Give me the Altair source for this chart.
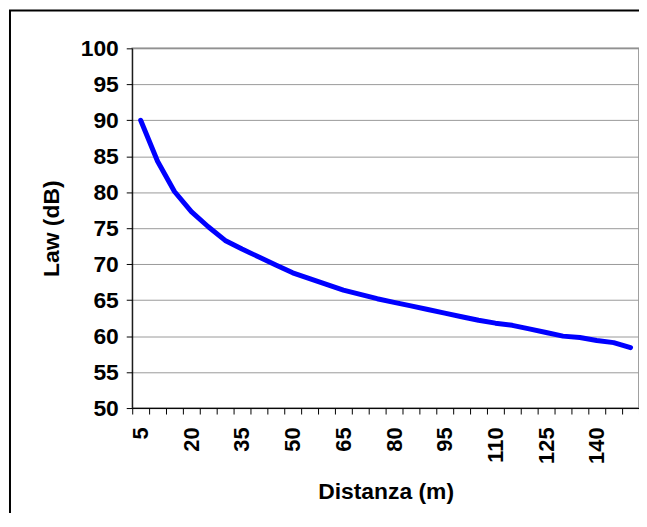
import altair as alt
import pandas as pd

dist = [5, 10, 15, 20, 25, 30, 35, 40, 45, 50, 55, 60, 65, 70, 75,
        80, 85, 90, 95, 100, 105, 110, 115, 120, 125, 130, 135, 140, 145, 150]
law = [90.0, 84.3, 80.1, 77.3, 75.2, 73.3, 72.1, 71.0, 69.9, 68.8,
       68.0, 67.2, 66.4, 65.8, 65.2, 64.7, 64.2, 63.7, 63.2, 62.7,
       62.2, 61.8, 61.5, 61.0, 60.5, 60.0, 59.8, 59.4, 59.1, 58.4]
x_labels = [5, 20, 35, 50, 65, 80, 95, 110, 125, 140]
y_ticks = [50, 55, 60, 65, 70, 75, 80, 85, 90, 95, 100]
x_bounds = [d - 2.5 for d in dist] + [dist[-1] + 2.5]

df = pd.DataFrame({"d": dist, "v": law})
FONT = "Liberation Sans"

xscale = alt.Scale(domain=[x_bounds[0], x_bounds[-1]], nice=False, zero=False)

line = alt.Chart(df).mark_line(color="#0000FF", strokeWidth=5, strokeCap="round",
                               strokeJoin="round").encode(
    x=alt.X("d:Q", scale=xscale,
            axis=alt.Axis(orient="bottom", values=x_bounds, labels=False, ticks=True,
                          tickSize=6, tickColor="black", domainColor="black",
                          grid=False, title=None)),
    y=alt.Y("v:Q", scale=alt.Scale(domain=[50, 100], nice=False, zero=False),
            axis=alt.Axis(values=y_ticks, grid=True, gridColor="#999999", gridWidth=1,
                          tickSize=6, tickColor="black", domainColor="black",
                          labelFont=FONT, labelFontSize=23, labelFontWeight="bold",
                          labelColor="black", labelPadding=8,
                          title="Law (dB)", titleFont=FONT, titleFontSize=23,
                          titleFontWeight="bold", titleColor="black", titlePadding=17)),
)

labels = alt.Chart(df).mark_point(opacity=0).encode(
    x=alt.X("d:Q", scale=xscale,
            axis=alt.Axis(orient="bottom", values=x_labels, ticks=False, tickSize=0,
                          domain=False, grid=False, labelAngle=270,
                          labelFont=FONT, labelFontSize=22, labelFontWeight="bold",
                          labelColor="black", labelPadding=19,
                          title="Distanza (m)", titleFont=FONT, titleFontSize=23,
                          titleFontWeight="bold", titleColor="black", titlePadding=17)),
)

one = pd.DataFrame({"a": [0]})
frame_top = alt.Chart(one).mark_rule(color="black", strokeWidth=2, clip=False).encode(
    x=alt.value(-124), x2=alt.value(512), y=alt.value(-38))
frame_left = alt.Chart(one).mark_rule(color="black", strokeWidth=2, clip=False).encode(
    x=alt.value(-123), y=alt.value(-38), y2=alt.value(472))

chart = alt.layer(frame_top, frame_left, line, labels).resolve_axis(x="independent").properties(
    width=510, height=362,
    autosize=alt.AutoSizeParams(type="none"),
    padding={"left": 125, "top": 39, "right": 0, "bottom": 104},
).configure_view(stroke="#808080", strokeWidth=1.5)

chart.save("out.html", embed_options={"renderer": "svg", "actions": False})
